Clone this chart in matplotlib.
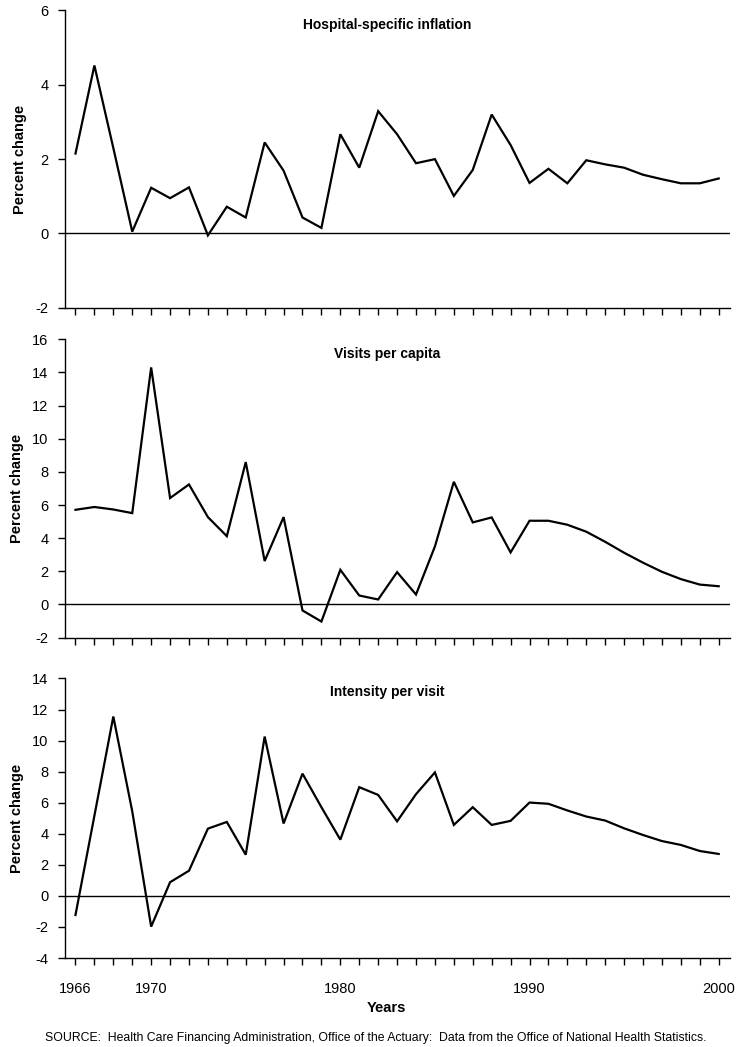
import matplotlib.pyplot as plt
import numpy as np

plt.rcParams['font.family'] = ['Liberation Sans', 'DejaVu Sans']

years = list(range(1966, 2001))

hospital_inflation = [2.15, 4.52, 2.3, 0.05, 1.23, 0.95, 1.24, -0.05, 0.72, 0.43,
                      2.45, 1.69, 0.43, 0.15, 2.67, 1.77, 3.29, 2.67, 1.89, 2.0,
                      1.01, 1.71, 3.2, 2.38, 1.36, 1.74, 1.35, 1.97, 1.86, 1.77,
                      1.58, 1.46, 1.35, 1.35, 1.48]

visits_per_capita = [5.71, 5.88, 5.73, 5.51, 14.3, 6.42, 7.24, 5.27, 4.12, 8.59,
                     2.62, 5.27, -0.36, -1.03, 2.09, 0.54, 0.30, 1.95, 0.6, 3.5,
                     7.4, 4.95, 5.25, 3.14, 5.05, 5.05, 4.81, 4.39, 3.78, 3.12,
                     2.52, 1.97, 1.53, 1.2, 1.1]

intensity_per_visit = [-1.23, 5.16, 11.55, 5.45, -1.98, 0.88, 1.62, 4.33, 4.76, 2.65,
                       10.26, 4.66, 7.87, 5.71, 3.62, 7.0, 6.5, 4.8, 6.55, 7.95,
                       4.57, 5.71, 4.57, 4.83, 6.01, 5.93, 5.5, 5.11, 4.85, 4.35,
                       3.92, 3.53, 3.28, 2.89, 2.7]

panels = [
    ("Hospital-specific inflation", hospital_inflation, (-2, 6), np.arange(-2, 7, 2)),
    ("Visits per capita", visits_per_capita, (-2, 16), np.arange(-2, 17, 2)),
    ("Intensity per visit", intensity_per_visit, (-4, 14), np.arange(-4, 15, 2)),
]

# axes boxes in figure fractions: left, bottom, width, height
boxes = [
    [0.087, 0.706, 0.889, 0.284],
    [0.087, 0.391, 0.889, 0.285],
    [0.087, 0.085, 0.889, 0.267],
]

fig = plt.figure(figsize=(7.48, 10.47), dpi=100)

for i, ((title, values, ylim, yticks), box) in enumerate(zip(panels, boxes)):
    ax = fig.add_axes(box)
    ax.plot(years, values, color='black', linewidth=1.6, solid_joinstyle='miter')
    ax.axhline(0, color='black', linewidth=1.0)
    ax.set_xlim(1965.45, 2000.6)
    ax.set_ylim(*ylim)
    ax.set_yticks(yticks)
    ax.set_yticklabels([str(v) for v in yticks], fontsize=10.5)
    ax.set_xticks(years)
    if i == 2:
        ax.set_xticklabels([str(y) if y in (1966, 1970, 1980, 1990, 2000) else '' for y in years],
                           fontsize=10.5)
    else:
        ax.set_xticklabels([])
    ax.tick_params(axis='both', direction='out', length=5, width=1, color='black')
    ax.tick_params(axis='x', pad=12)
    ax.tick_params(axis='y', pad=7)
    for side in ('top', 'right'):
        ax.spines[side].set_visible(False)
    for side in ('left', 'bottom'):
        ax.spines[side].set_linewidth(1.0)
    ax.set_ylabel("Percent change", fontsize=10.5, fontweight='bold', labelpad=6)
    ax.text(0.485, 0.975, title, transform=ax.transAxes, ha='center', va='top',
            fontsize=10, fontweight='bold')

fig.text(0.517, 0.037, "Years", ha='center', va='center', fontsize=10.5, fontweight='bold')
fig.text(0.503, 0.009, "SOURCE:  Health Care Financing Administration, Office of the Actuary:  "
         "Data from the Office of National Health Statistics.",
         ha='center', va='center', fontsize=8.8)

fig.savefig('out.png', dpi=100)
